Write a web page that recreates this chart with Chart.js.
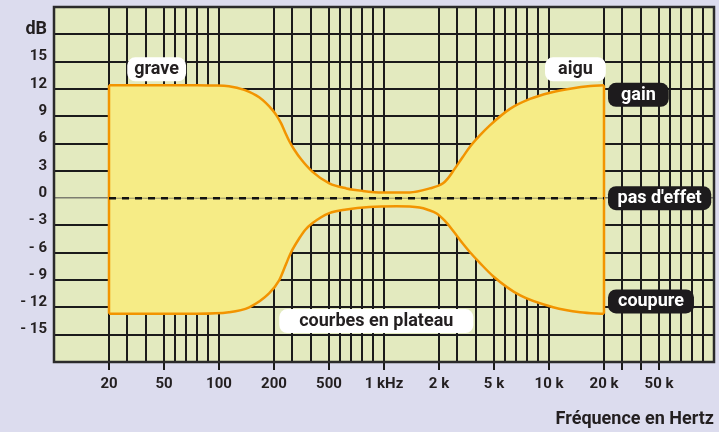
<!DOCTYPE html>
<html lang="fr">
<head>
<meta charset="utf-8">
<title>Courbes en plateau</title>
<script src="https://cdn.jsdelivr.net/npm/chart.js@4/dist/chart.umd.min.js"></script>
<style>
html, body { margin: 0; padding: 0; background: #dcdcee; overflow: hidden; }
canvas { display: block; }
</style>
</head>
<body>
<canvas id="eq" width="719" height="432"></canvas>
<script>
// Frequency axis: equal spacing between the 1-2-5 steps, linear inside each step
const scaleSteps = [10, 20, 50, 100, 200, 500, 1000, 2000, 5000, 10000, 20000, 50000, 100000];
const gridFreqs = [20, 30, 40, 50, 60, 70, 80, 90, 100, 200, 300, 400, 500, 600, 700, 800, 900,
  1000, 2000, 3000, 4000, 5000, 6000, 7000, 8000, 9000, 10000, 20000, 30000, 40000,
  50000, 60000, 70000, 80000, 90000];
const xTickFreqs = [20, 50, 100, 200, 500, 1000, 2000, 5000, 10000, 20000, 50000];
const xTickLabels = ['20', '50', '100', '200', '500', '1 kHz', '2 k', '5 k', '10 k', '20 k', '50 k'];
const xTickMarkFreqs = [20, 50, 100, 200, 500, 1000, 2000, 5000, 10000, 20000, 30000, 40000, 50000];

// Level axis (dB)
const yTickValues = [18, 15, 12, 9, 6, 3, 0, -3, -6, -9, -12, -15];
const yTickLabels = ['dB', '15', '12', '9', '6', '3', '0', '- 3', '- 6', '- 9', '- 12', '- 15'];

// Shelving curves: boost (gain) and cut (coupure), 20 Hz – 20 kHz
const upperFreq = [20, 80, 95, 118, 146, 173, 197, 217, 239, 261, 283, 310, 349, 409, 503, 658, 804, 986,
  1465, 1830, 2200, 2475, 2746, 3296, 3679, 4226, 4774, 6450, 8275, 10200, 13850, 17500, 20000];
const upperDb = [12.4, 12.4, 12.37, 12.3, 11.9, 11.08, 9.7, 8.99, 8.21, 7.22, 6.28, 5.35, 4.24, 2.92, 1.62, 1.07, 0.8, 0.63,
  0.63, 1.07, 1.6, 2.15, 2.9, 4.52, 5.62, 6.89, 8.0, 9.81, 10.9, 11.58, 12.02, 12.32, 12.4];
const lowerFreq = [20, 80, 118, 155, 191, 228, 267, 294, 338, 371, 409, 503, 658, 867, 1228, 1648, 1794, 1958,
  2312, 2746, 3296, 3679, 4226, 4967, 7385, 10740, 15660, 20000];
const lowerDb = [-12.7, -12.7, -12.54, -11.99, -10.47, -9.04, -7.17, -5.92, -4.41, -3.47, -2.76, -1.65, -1.25, -0.96, -0.88, -1.03, -1.27, -1.69,
  -2.48, -3.53, -4.99, -5.92, -7.11, -8.6, -10.69, -11.98, -12.54, -12.71];

// Reference line "pas d'effet"
const flatFreq = [20, 20000];
const flatDb = [0, 0];

// Tags drawn over the chart
const tags = [
  { text: 'grave', freq: 46, db: 14.15, anchor: 'center', dark: false, padX: 7 },
  { text: 'aigu', freq: 14800, db: 14.15, anchor: 'center', dark: false, padX: 13 },
  { text: 'gain', freq: 20000, db: 11.35, anchor: 'left', dark: true, padX: 13 },
  { text: "pas d'effet", freq: 20000, db: 0, anchor: 'left', dark: true, padX: 9.5 },
  { text: 'coupure', freq: 20000, db: -11.35, anchor: 'left', dark: true, padX: 10 },
  { text: 'courbes en plateau', freq: 930, db: -13.5, anchor: 'center', dark: false, padX: 20 }
];

const INK = '#231f20';
const GRID = '#1b1b1b';
const ORANGE = '#f29400';
const FILL = '#f6ec86';
const PANEL = '#e3eabf';
const PAGE = '#dcdcee';
const FONT = 'Roboto, "Noto Sans", sans-serif';

function stepPos(f) {
  for (let i = 1; i < scaleSteps.length; i++) {
    if (f <= scaleSteps[i] || i === scaleSteps.length - 1) {
      const a = scaleSteps[i - 1], b = scaleSteps[i];
      return (i - 2) + (f - a) / (b - a);
    }
  }
}

function points(freqs, dbs) {
  return freqs.map((f, i) => ({ x: stepPos(f), y: dbs[i] }));
}

const leftEdge = [{ x: stepPos(upperFreq[0]), y: upperDb[0] }, { x: stepPos(lowerFreq[0]), y: lowerDb[0] }];
const rightEdge = [
  { x: stepPos(upperFreq[upperFreq.length - 1]), y: upperDb[upperDb.length - 1] },
  { x: stepPos(lowerFreq[lowerFreq.length - 1]), y: lowerDb[lowerDb.length - 1] }
];

function roundRectPath(ctx, x, y, w, h, r) {
  ctx.beginPath();
  ctx.moveTo(x + r, y);
  ctx.lineTo(x + w - r, y);
  ctx.arcTo(x + w, y, x + w, y + r, r);
  ctx.lineTo(x + w, y + h - r);
  ctx.arcTo(x + w, y + h, x + w - r, y + h, r);
  ctx.lineTo(x + r, y + h);
  ctx.arcTo(x, y + h, x, y + h - r, r);
  ctx.lineTo(x, y + r);
  ctx.arcTo(x, y, x + r, y, r);
  ctx.closePath();
}

const panelPlugin = {
  id: 'panel',
  beforeDraw(chart) {
    const { ctx, chartArea: a } = chart;
    ctx.save();
    ctx.fillStyle = PAGE;
    ctx.fillRect(0, 0, chart.width, chart.height);
    ctx.fillStyle = PANEL;
    ctx.fillRect(a.left, a.top, a.right - a.left, a.bottom - a.top);
    ctx.restore();
  },
  afterDatasetsDraw(chart) {
    const { ctx, chartArea: a } = chart;
    ctx.save();
    ctx.strokeStyle = '#2b2b2b';
    ctx.lineWidth = 2.5;
    ctx.strokeRect(a.left, a.top, a.right - a.left, a.bottom - a.top);
    ctx.restore();
  },
  afterDraw(chart) {
    const { ctx } = chart;
    const xs = chart.scales.x, ys = chart.scales.y;
    ctx.save();
    ctx.font = 'bold 18px ' + FONT;
    ctx.textBaseline = 'middle';
    ctx.textAlign = 'center';
    const h = 24;
    tags.forEach(t => {
      const tw = ctx.measureText(t.text).width;
      const w = tw + 2 * t.padX;
      const px = xs.getPixelForValue(stepPos(t.freq));
      const py = ys.getPixelForValue(t.db);
      const left = t.anchor === 'left' ? px + 4 : px - w / 2;
      roundRectPath(ctx, left, py - h / 2, w, h, 8);
      ctx.fillStyle = t.dark ? '#1d1b1d' : '#ffffff';
      ctx.fill();
      ctx.fillStyle = t.dark ? '#ffffff' : INK;
      ctx.fillText(t.text, left + w / 2, py + 0.5);
    });
    ctx.restore();
  }
};

const lineBase = { pointRadius: 0, pointHoverRadius: 0 };

new Chart(document.getElementById('eq'), {
  type: 'line',
  data: {
    datasets: [
      { ...lineBase, label: 'pas d\'effet', data: points(flatFreq, flatDb), borderColor: '#111111',
        borderWidth: 2.5, borderDash: [7, 6], fill: false, order: 0 },
      { ...lineBase, label: 'zéro', data: points(flatFreq, flatDb), borderColor: 'rgba(90,90,70,0.6)',
        borderWidth: 1, fill: false, order: 1 },
      { ...lineBase, label: 'bord grave', data: leftEdge, borderColor: ORANGE, borderWidth: 2.5,
        fill: false, tension: 0, order: 2 },
      { ...lineBase, label: 'bord aigu', data: rightEdge, borderColor: ORANGE, borderWidth: 2.5,
        fill: false, tension: 0, order: 2 },
      { ...lineBase, label: 'gain', data: points(upperFreq, upperDb), borderColor: ORANGE, borderWidth: 2.5,
        backgroundColor: FILL, fill: 'origin', cubicInterpolationMode: 'monotone', order: 3 },
      { ...lineBase, label: 'coupure', data: points(lowerFreq, lowerDb), borderColor: ORANGE, borderWidth: 2.5,
        backgroundColor: FILL, fill: 'origin', cubicInterpolationMode: 'monotone', order: 4 }
    ]
  },
  options: {
    responsive: false,
    devicePixelRatio: 1,
    animation: false,
    events: [],
    layout: { padding: { top: 7, right: 5, left: 0, bottom: 0 } },
    plugins: { legend: { display: false }, tooltip: { enabled: false } },
    scales: {
      x: {
        type: 'linear',
        min: stepPos(10),
        max: stepPos(100000),
        afterBuildTicks(scale) {
          scale.ticks = gridFreqs.map(f => ({ value: stepPos(f) }));
        },
        afterFit(scale) {
          scale.height = 70;
          scale.paddingLeft = 0;
          scale.paddingRight = 0;
        },
        border: { display: false },
        grid: {
          color: GRID,
          lineWidth: 2,
          drawTicks: true,
          tickLength: 8,
          tickWidth: 2,
          tickColor: ctx => xTickMarkFreqs.includes(gridFreqs[ctx.index]) ? GRID : 'rgba(0,0,0,0)'
        },
        ticks: {
          autoSkip: false,
          maxRotation: 0,
          padding: 5,
          color: INK,
          font: { family: FONT, size: 15, weight: 'bold' },
          callback: (value, index) => {
            const k = xTickFreqs.indexOf(gridFreqs[index]);
            return k >= 0 ? xTickLabels[k] : '';
          }
        },
        title: {
          display: true,
          text: 'Fréquence en Hertz',
          align: 'end',
          color: INK,
          font: { family: FONT, size: 18, weight: 'bold' },
          padding: { top: 0, bottom: 2 }
        }
      },
      y: {
        type: 'linear',
        min: -18,
        max: 21,
        afterFit(scale) {
          scale.width = 54;
          scale.paddingTop = 0;
          scale.paddingBottom = 0;
        },
        border: { display: false },
        grid: {
          drawTicks: false,
          color: ctx => ctx.tick && ctx.tick.value === 0 ? '#7d7d70' : GRID,
          lineWidth: ctx => ctx.tick && ctx.tick.value === 0 ? 1.5 : 2
        },
        ticks: {
          stepSize: 3,
          padding: 7,
          labelOffset: -5,
          color: INK,
          font: ctx => ({ family: FONT, weight: 'bold', size: ctx.tick && ctx.tick.value === 18 ? 18 : 15 }),
          callback: value => {
            const k = yTickValues.indexOf(value);
            return k >= 0 ? yTickLabels[k] : '';
          }
        }
      }
    }
  },
  plugins: [panelPlugin]
});
</script>
</body>
</html>
